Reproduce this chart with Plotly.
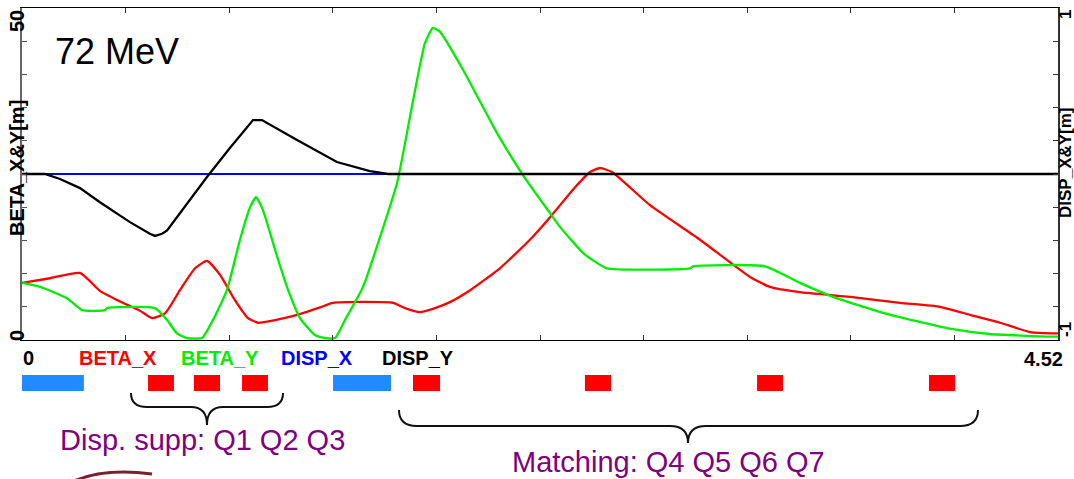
import plotly.graph_objects as go

# ---------------- data ----------------
S_MAX = 4.52

beta_x_s = [0.000, 0.122, 0.253, 0.340, 0.428, 0.515, 0.567, 0.624, 0.689, 0.755,
            0.807, 0.864, 0.929, 0.986, 1.030, 1.104, 1.213, 1.300, 1.357, 1.619,
            1.671, 1.736, 1.802, 1.867, 1.955, 2.085, 2.216, 2.304, 2.413, 2.478,
            2.522, 2.574, 2.740, 2.958, 3.176, 3.263, 3.394, 3.613, 3.831, 4.005,
            4.136, 4.267, 4.398, 4.520]
beta_x = [8.6, 9.3, 10.1, 7.4, 5.8, 4.4, 3.3, 4.0, 7.5, 10.8,
          11.9, 9.8, 6.0, 3.3, 2.6, 3.0, 3.9, 4.9, 5.6, 5.6,
          4.8, 4.2, 4.8, 5.7, 7.5, 10.8, 15.1, 18.5, 23.0, 25.3,
          25.9, 25.3, 20.3, 15.1, 9.5, 8.0, 7.2, 6.5, 5.6, 5.0,
          3.8, 2.6, 1.2, 1.0]

beta_y_s = [0.000, 0.079, 0.196, 0.262, 0.362, 0.371, 0.580, 0.633, 0.676, 0.720,
            0.785, 0.833, 0.894, 0.951, 0.995, 1.021, 1.051, 1.104, 1.156, 1.213,
            1.278, 1.322, 1.366, 1.409, 1.488, 1.562, 1.636, 1.706, 1.758, 1.793,
            1.824, 1.924, 2.072, 2.186, 2.304, 2.348, 2.448, 2.491, 2.552, 2.915,
            2.928, 3.242, 3.394, 3.538, 3.756, 4.049, 4.223, 4.485, 4.520]
beta_y = [8.6, 8.0, 6.3, 4.5, 4.5, 4.8, 4.8, 3.0, 1.0, 0.3,
          0.3, 3.0, 7.5, 15.1, 20.0, 21.5, 19.6, 13.6, 8.0, 3.3,
          0.75, 0.3, 0.3, 3.0, 8.0, 15.5, 23.6, 36.0, 44.7, 47.0,
          46.4, 40.7, 31.2, 24.8, 19.1, 17.0, 13.1, 12.0, 10.8, 10.8,
          11.1, 11.1, 8.6, 6.5, 4.1, 1.7, 0.9, 0.5, 0.5]

disp_x_s = [0.0, 4.52]
disp_x = [0.0, 0.0]

disp_y_s = [0.000, 0.100, 0.166, 0.253, 0.340, 0.471, 0.558, 0.580, 0.611, 0.633,
            0.807, 0.907, 1.008, 1.047, 1.200, 1.374, 1.518, 1.597, 4.520]
disp_y = [0.0, 0.0, -0.03, -0.085, -0.17, -0.29, -0.36, -0.373, -0.36, -0.34,
          -0.018, 0.157, 0.325, 0.325, 0.205, 0.072, 0.018, 0.0, 0.0]

# lattice elements (start, end in s)
dipole_start = [-0.005, 1.357]
dipole_end = [0.270, 1.610]
quad_start = [0.550, 0.750, 0.960, 1.706, 2.456, 3.207, 3.957]
quad_end = [0.663, 0.864, 1.073, 1.824, 2.570, 3.320, 4.071]

legend_names = ["BETA_X", "BETA_Y", "DISP_X", "DISP_Y"]
legend_colors = ["#ff0000", "#00ee00", "#0000ff", "#000000"]
legend_xpx = [118, 220, 317, 418]

# ---------------- layout geometry ----------------
W, H = 1074, 479
L, R, T, B = 22, 1058, 8, 340


def px(x):
    return (x - L) / (R - L)


def py(y):
    return (B - y) / (B - T)


FONT = "Arial, Liberation Sans, sans-serif"

fig = go.Figure()
fig.add_trace(go.Scatter(x=disp_x_s, y=disp_x, mode="lines", yaxis="y2",
                         line=dict(color="#0000ff", width=2), name="DISP_X"))
fig.add_trace(go.Scatter(x=disp_y_s, y=disp_y, mode="lines", yaxis="y2",
                         line=dict(color="#000000", width=2.3), name="DISP_Y"))
fig.add_trace(go.Scatter(x=beta_x_s, y=beta_x, mode="lines",
                         line=dict(color="#ff0000", width=2.3, shape="spline", smoothing=0.5),
                         name="BETA_X"))
fig.add_trace(go.Scatter(x=beta_y_s, y=beta_y, mode="lines",
                         line=dict(color="#00ee00", width=2.3, shape="spline", smoothing=0.5),
                         name="BETA_Y"))

tick_vals = [i * S_MAX / 10 for i in range(11)]
fig.update_layout(
    width=W, height=H, autosize=False,
    margin=dict(l=L, r=W - R, t=T, b=H - B, pad=0),
    paper_bgcolor="white", plot_bgcolor="white",
    showlegend=False,
    xaxis=dict(range=[0, S_MAX], tickvals=tick_vals, showticklabels=False,
               ticks="inside", ticklen=5, tickcolor="#333", showgrid=False, zeroline=False,
               showline=True, linecolor="#000", linewidth=1, mirror="ticks"),
    yaxis=dict(range=[0, 50], dtick=5, showticklabels=False, ticks="inside", ticklen=5,
               tickcolor="#555", showgrid=False, zeroline=False,
               showline=True, linecolor="#666", linewidth=1.5, mirror=True),
    yaxis2=dict(range=[-1, 1], dtick=0.2, overlaying="y", side="right", showticklabels=False,
                ticks="inside", ticklen=5, tickcolor="#333", showgrid=False, zeroline=False,
                showline=True, linecolor="#333", linewidth=1.5),
)

shapes = []
for a, b in zip(dipole_start, dipole_end):
    shapes.append(dict(type="rect", xref="x", yref="paper", x0=a, x1=b,
                       y0=py(391), y1=py(375), fillcolor="#1e8cff", line=dict(width=0),
                       layer="above"))
for a, b in zip(quad_start, quad_end):
    shapes.append(dict(type="rect", xref="x", yref="paper", x0=a, x1=b,
                       y0=py(391), y1=py(375), fillcolor="#ff0000", line=dict(width=0),
                       layer="above"))


def path_from(cmds):
    out = []
    for c in cmds:
        op = c[0]
        nums = c[1:]
        pts = []
        for i in range(0, len(nums), 2):
            pts.append(f"{px(nums[i]):.5f},{py(nums[i + 1]):.5f}")
        out.append(op + " " + " ".join(pts))
    return " ".join(out)


brace1 = path_from([("M", 131, 393), ("Q", 131, 407, 147, 407), ("L", 191, 407),
                    ("Q", 207, 407, 207, 425), ("Q", 207, 407, 223, 407), ("L", 267, 407),
                    ("Q", 283, 407, 283, 393)])
brace2 = path_from([("M", 399, 410), ("Q", 399, 426, 417, 426), ("L", 670, 426),
                    ("Q", 688, 426, 688, 443), ("Q", 688, 426, 706, 426), ("L", 960, 426),
                    ("Q", 978, 426, 978, 410)])
for p in (brace1, brace2):
    shapes.append(dict(type="path", xref="paper", yref="paper", path=p,
                       line=dict(color="#111", width=2)))
# fragment of a picture at the bottom-left edge
shapes.append(dict(type="path", xref="paper", yref="paper",
                   path=path_from([("M", 74, 481), ("Q", 105, 468, 152, 474)]),
                   line=dict(color="#7a2030", width=3)))
fig.update_layout(shapes=shapes)

ann = []


def add_text(text, x, y, size, color="#000", bold=False, angle=0):
    t = f"<b>{text}</b>" if bold else text
    ann.append(dict(text=t, x=px(x), y=py(y), xref="paper", yref="paper",
                    xanchor="center", yanchor="middle", showarrow=False, textangle=angle,
                    font=dict(family=FONT, size=size, color=color)))


add_text("72 MeV", 117, 52, 36)
add_text("50", 17, 21, 20, bold=True, angle=-90)
add_text("0", 17, 336, 20, bold=True, angle=-90)
add_text("BETA_X&amp;Y[m]", 17, 168, 20, bold=True, angle=-90)
add_text("1", 1065, 15, 17, bold=True, angle=-90)
add_text("-1", 1065, 330, 17, bold=True, angle=-90)
add_text("DISP_X&amp;Y[m]", 1065, 163, 17, bold=True, angle=-90)
add_text("0", 28, 358, 20, bold=True)
add_text("4.52", 1043, 359, 20, bold=True)
for name, col, xx in zip(legend_names, legend_colors, legend_xpx):
    add_text(name, xx, 358, 20, color=col, bold=True)
add_text("Disp. supp: Q1 Q2 Q3", 202, 440, 29, color="#800080")
add_text("Matching: Q4 Q5 Q6 Q7", 668, 462, 29, color="#800080")
fig.update_layout(annotations=ann)

fig.write_html("out.html", config={"displayModeBar": False},
               post_script="document.body.style.margin='0px';")
